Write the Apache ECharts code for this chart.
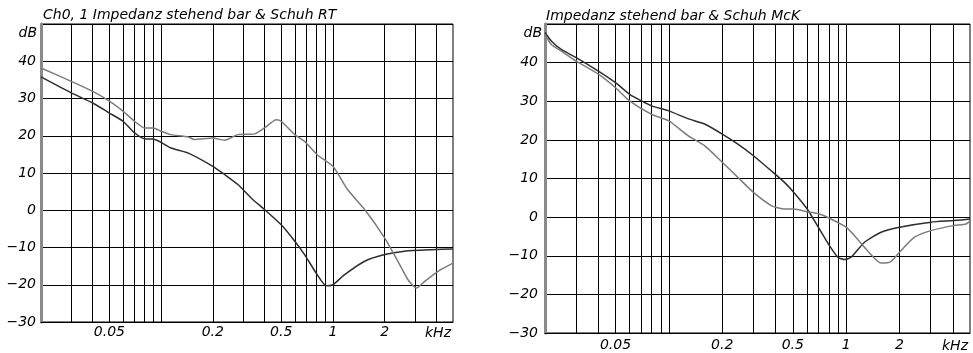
<!DOCTYPE html>
<html>
<head>
<meta charset="utf-8">
<script src="https://cdn.jsdelivr.net/npm/echarts@6/dist/echarts.min.js"></script>
<style>
  html, body { margin: 0; padding: 0; background: #fff; }
  #chart { width: 973px; height: 353px; }
</style>
</head>
<body>
<div id="chart"></div>
<script>
// frequency grid (kHz) and label values
let gridFreqs = [0.03, 0.04, 0.05, 0.06, 0.07, 0.08, 0.09, 0.1, 0.2, 0.3, 0.4, 0.5, 0.6, 0.7, 0.8, 0.9, 1, 2, 3, 4];
let labelFreqs = [0.05, 0.2, 0.5, 1, 2];

// left chart: Ch0, 1 ... RT  [kHz, dB]
let rtDark = [
    [0.02, 35.8], [0.03, 31.5], [0.04, 28.8], [0.05, 26.1], [0.06, 23.9], [0.07, 20.8],
    [0.08, 19.2], [0.09, 19.1], [0.1, 18.2], [0.114, 16.7], [0.143, 15.4], [0.2, 11.8],
    [0.234, 9.6], [0.28, 6.9], [0.334, 3.3], [0.4, 0.2], [0.5, -3.9], [0.6, -8.3],
    [0.684, -11.9], [0.81, -17.3], [0.915, -20.3], [1.0, -20.0], [1.17, -17.3],
    [1.53, -13.7], [2.0, -11.9], [2.61, -11.0], [3.74, -10.6], [5, -10.4]
];
let rtGray = [
    [0.02, 38.2], [0.03, 34.6], [0.04, 31.9], [0.05, 29.3], [0.06, 26.6], [0.07, 23.9],
    [0.08, 22.1], [0.09, 22.1], [0.1, 21.2], [0.114, 20.3], [0.143, 19.7], [0.156, 19.0],
    [0.2, 19.4], [0.234, 18.8], [0.28, 20.3], [0.35, 20.5], [0.4, 22.1], [0.468, 24.3],
    [0.5, 23.9], [0.6, 20.3], [0.684, 18.5], [0.81, 14.9], [1.0, 11.8], [1.22, 5.5],
    [1.53, 0.2], [2.0, -7.4], [2.39, -13.7], [2.73, -18.6], [3.06, -20.9], [3.42, -19.1],
    [4.09, -16.4], [5, -14.2]
];

// right chart: ... McK
let mckDark = [
    [0.02, 47.8], [0.0217, 45.6], [0.0247, 43.4], [0.03, 41.3], [0.04, 37.8], [0.05, 34.8],
    [0.06, 31.8], [0.07, 30.1], [0.08, 28.8], [0.1, 27.5], [0.128, 25.5], [0.159, 24.1],
    [0.2, 21.5], [0.245, 18.9], [0.3, 15.9], [0.378, 12], [0.449, 9], [0.507, 6.4],
    [0.603, 2.1], [0.707, -3.1], [0.805, -7.4], [0.898, -10.4], [0.98, -11], [1.067, -10.4],
    [1.27, -6.5], [1.575, -3.9], [2.0, -2.6], [3.01, -1.3], [4.03, -0.9], [5, -0.5]
];
let mckGray = [
    [0.02, 47.3], [0.0217, 44.7], [0.0247, 43], [0.03, 40.4], [0.04, 37], [0.05, 33.5],
    [0.06, 30.1], [0.08, 26.6], [0.1, 24.9], [0.128, 21.1], [0.159, 18.5], [0.2, 14.2],
    [0.245, 10.3], [0.3, 6.4], [0.378, 3], [0.449, 2.1], [0.507, 2.1], [0.603, 1.4],
    [0.707, 0.8], [0.805, -0.3], [1.0, -2.6], [1.16, -5.7], [1.32, -8.7], [1.575, -11.9],
    [1.79, -11.5], [2.0, -9.1], [2.43, -5.2], [3.01, -3.5], [4.03, -2.2], [4.75, -1.8], [5, -0.9]
];

let font = { fontFamily: 'DejaVu Sans', fontStyle: 'italic', fontSize: 14, color: '#000' };

function xAxisOf(gridIndex, margin) {
    return {
        type: 'log',
        logBase: 10,
        gridIndex: gridIndex,
        min: 0.02,
        max: 5,
        name: 'kHz',
        nameLocation: 'end',
        nameGap: -2,
        nameTextStyle: Object.assign({}, font, { align: 'right', verticalAlign: 'top', padding: [margin + 1, 0, 0, 0] }),
        axisLine: { show: true, onZero: false, lineStyle: { color: '#000', width: 1 } },
        axisTick: { show: false, customValues: gridFreqs },
        axisLabel: Object.assign({}, font, {
            customValues: labelFreqs,
            margin: margin,
            formatter: function (v) { return String(+v.toPrecision(3)); }
        }),
        splitLine: { show: true, lineStyle: { color: '#000', width: 1 } },
        minorSplitLine: { show: false }
    };
}

function yAxisOf(gridIndex, pad, margin) {
    return {
        type: 'value',
        gridIndex: gridIndex,
        min: -30,
        max: 50,
        interval: 10,
        name: 'dB',
        nameLocation: 'end',
        nameGap: -16,
        nameTextStyle: Object.assign({}, font, { align: 'right', padding: [0, pad, 0, 0] }),
        axisLine: { show: true, lineStyle: { color: '#8a8a8a', width: 3 } },
        axisTick: { show: false },
        axisLabel: Object.assign({}, font, {
            margin: margin,
            formatter: function (v) {
                if (v === 50) return '';
                return v < 0 ? '\u2212' + Math.abs(v) : String(v);
            }
        }),
        splitLine: { show: true, lineStyle: { color: '#000', width: 1 } }
    };
}

function lineOf(data, color, xi) {
    return {
        type: 'line',
        xAxisIndex: xi,
        yAxisIndex: xi,
        data: data,
        showSymbol: false,
        smooth: 0.2,
        lineStyle: { color: color, width: 1.5 },
        silent: true
    };
}

let option = {
    backgroundColor: '#fff',
    animation: false,
    title: [
        { text: 'Ch0, 1 Impedanz stehend bar & Schuh RT', left: 38, top: 3, textStyle: Object.assign({}, font, { fontWeight: 'normal' }) },
        { text: 'Impedanz stehend bar & Schuh McK', left: 541, top: 4, textStyle: Object.assign({}, font, { fontWeight: 'normal' }) }
    ],
    grid: [
        { left: 41, top: 24, width: 412, height: 298, show: true, borderColor: '#000', borderWidth: 1 },
        { left: 545, top: 24, width: 425, height: 310, show: true, borderColor: '#000', borderWidth: 1 }
    ],
    xAxis: [xAxisOf(0, 3), xAxisOf(1, 5)],
    yAxis: [yAxisOf(0, 4, 5), yAxisOf(1, 3, 7)],
    series: [
        lineOf(rtDark, '#2e2e2e', 0),
        lineOf(rtGray, '#7c7c7c', 0),
        lineOf(mckDark, '#2e2e2e', 1),
        lineOf(mckGray, '#7c7c7c', 1)
    ]
};

let chart = echarts.init(document.getElementById('chart'));
chart.setOption(option);
</script>
</body>
</html>
